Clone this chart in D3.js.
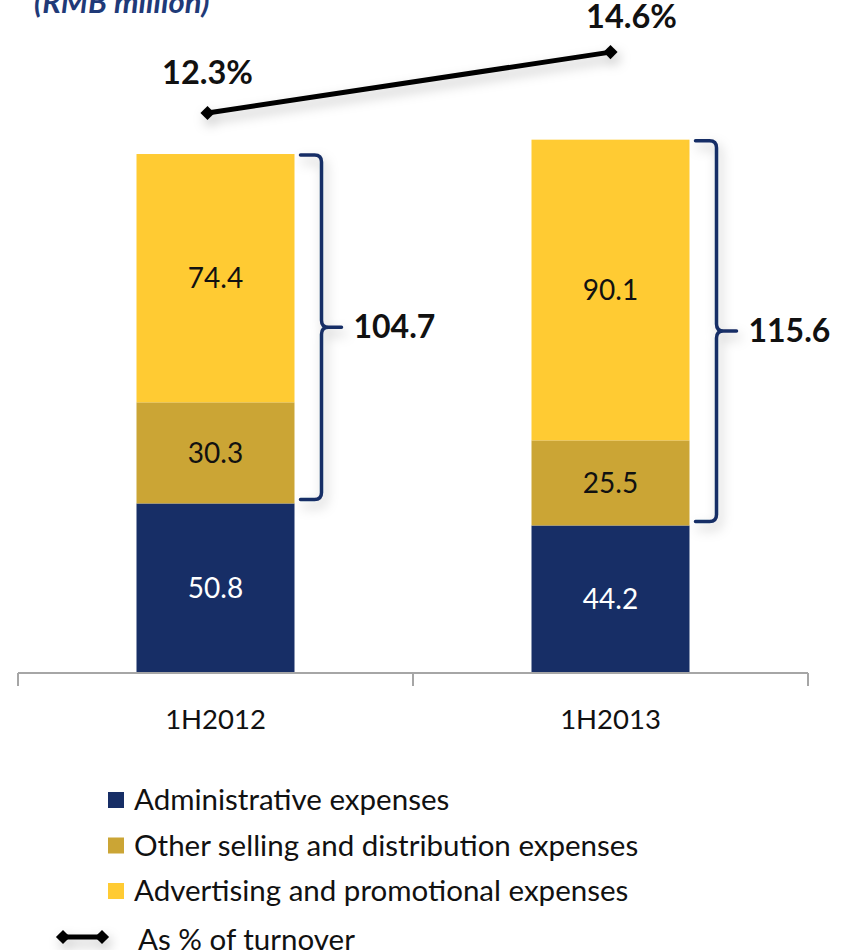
<!DOCTYPE html>
<html>
<head>
<meta charset="utf-8">
<script src="https://cdn.jsdelivr.net/npm/d3@7"></script>
<style>
  html, body { margin: 0; padding: 0; background: #fff; }
  svg { display: block; font-family: Lato, "Open Sans", sans-serif; }
</style>
</head>
<body>
<div id="chart"></div>
<script>
// data
const periods = ["1H2012", "1H2013"];
const seriesNames = [
  "Administrative expenses",
  "Other selling and distribution expenses",
  "Advertising and promotional expenses"
];
const adminValues = [50.8, 44.2];
const otherSellingValues = [30.3, 25.5];
const advertisingValues = [74.4, 90.1];
const bracketTotals = ["104.7", "115.6"];
const pctOfTurnover = [12.3, 14.6];
const pctLabels = ["12.3%", "14.6%"];
const lineLegend = "As % of turnover";
const unitLabel = "(RMB million)";

const colors = ["#172E66", "#CBA535", "#FFCB33"];
const navy = "#172E66";

const width = 855, height = 950;
const base = 673;

const svg = d3.select("#chart").append("svg")
  .attr("width", width).attr("height", height);

const defs = svg.append("defs");
defs.append("filter").attr("id", "shadow")
  .attr("x", "-20%").attr("y", "-50%").attr("width", "140%").attr("height", "200%")
  .append("feDropShadow")
  .attr("dx", 3).attr("dy", 6).attr("stdDeviation", 6)
  .attr("flood-color", "#000").attr("flood-opacity", 0.25);

const x = d3.scaleBand()
  .domain(periods)
  .range([18, 808])
  .paddingInner(0.6)
  .paddingOuter(0.3);

const y = d3.scaleLinear().domain([0, 160]).range([base, 139]);
const yPct = d3.scaleLinear().domain([8, 16]).range([227, 15]);

// stack
const rows = periods.map((p, i) => ({
  period: p,
  s0: adminValues[i],
  s1: otherSellingValues[i],
  s2: advertisingValues[i]
}));
const stack = d3.stack().keys(["s0", "s1", "s2"])(rows);

svg.append("g").selectAll("g")
  .data(stack)
  .join("g")
  .attr("fill", (d, i) => colors[i])
  .each(function (layer, li) {
    const g = d3.select(this);
    g.selectAll("rect")
      .data(layer)
      .join("rect")
      .attr("x", d => x(d.data.period))
      .attr("y", d => y(d[1]))
      .attr("width", x.bandwidth())
      .attr("height", d => y(d[0]) - y(d[1]));
    g.selectAll("text")
      .data(layer)
      .join("text")
      .attr("x", d => x(d.data.period) + x.bandwidth() / 2)
      .attr("y", d => (y(d[0]) + y(d[1])) / 2)
      .attr("dy", "0.35em")
      .attr("text-anchor", "middle")
      .attr("font-size", 28)
      .attr("fill", li === 0 ? "#fff" : "#111")
      .text(d => (d[1] - d[0]).toFixed(1));
  });

// axis
const axis = svg.append("g").attr("stroke", "#A6A6A6").attr("stroke-width", 2);
axis.append("line")
  .attr("x1", x.range()[0]).attr("x2", x.range()[1])
  .attr("y1", base).attr("y2", base);
const bounds = [x.range()[0], x.range()[0] + x.step(), x.range()[1]];
axis.selectAll("line.tick")
  .data(bounds)
  .join("line")
  .attr("class", "tick")
  .attr("x1", d => d).attr("x2", d => d)
  .attr("y1", base).attr("y2", base + 13);

svg.append("g")
  .attr("transform", `translate(0,${base})`)
  .call(d3.axisBottom(x).tickSize(0).tickPadding(0))
  .call(g => g.select(".domain").remove())
  .selectAll("text")
  .attr("y", 46)
  .attr("dy", "0.35em")
  .attr("font-size", 27.5)
  .attr("font-family", "Lato, sans-serif")
  .attr("fill", "#111");

// braces on the top two segments
const braceG = svg.append("g").attr("filter", "url(#shadow)");
rows.forEach((r, i) => {
  const bx = x(r.period) + x.bandwidth();
  const top = y(r.s0 + r.s1 + r.s2) + 1;
  const bot = y(r.s0) - 4;
  const mid = (top + bot) / 2;
  const x0 = bx + 6, xv = bx + 27, xt = bx + 47, rr = 7;
  const p = d3.path();
  p.moveTo(x0, top);
  p.lineTo(xv - rr, top);
  p.quadraticCurveTo(xv, top, xv, top + rr);
  p.lineTo(xv, mid - rr);
  p.quadraticCurveTo(xv, mid, xv + rr, mid);
  p.lineTo(xt, mid);
  p.moveTo(xv + rr, mid);
  p.quadraticCurveTo(xv, mid, xv, mid + rr);
  p.lineTo(xv, bot - rr);
  p.quadraticCurveTo(xv, bot, xv - rr, bot);
  p.lineTo(x0, bot);
  braceG.append("path")
    .attr("d", p.toString())
    .attr("fill", "none")
    .attr("stroke", navy)
    .attr("stroke-width", 3.5)
    .attr("stroke-linecap", "round");
  svg.append("text")
    .attr("x", bx + 59)
    .attr("y", mid)
    .attr("dy", "0.35em")
    .attr("font-size", 32)
    .attr("font-weight", "bold")
    .attr("fill", "#111")
    .text(bracketTotals[i]);
});

// percentage line
const pts = periods.map((p, i) => [x(p) + x.bandwidth() / 2 - (i === 0 ? 8 : 0), yPct(pctOfTurnover[i])]);
const lineG = svg.append("g").attr("filter", "url(#shadow)");
lineG.append("path")
  .attr("d", d3.line()(pts))
  .attr("fill", "none")
  .attr("stroke", "#000")
  .attr("stroke-width", 5);
lineG.selectAll("path.mk")
  .data(pts)
  .join("path")
  .attr("class", "mk")
  .attr("transform", d => `translate(${d[0]},${d[1]}) rotate(45)`)
  .attr("d", d3.symbol(d3.symbolSquare, 100)())
  .attr("fill", "#000");

const labelDx = [0, 21], labelDy = [-29, -24];
svg.selectAll("text.pct")
  .data(pts)
  .join("text")
  .attr("class", "pct")
  .attr("x", (d, i) => d[0] + labelDx[i])
  .attr("y", (d, i) => d[1] + labelDy[i])
  .attr("text-anchor", "middle")
  .attr("font-size", 32.5)
  .attr("font-weight", "bold")
  .attr("fill", "#111")
  .text((d, i) => pctLabels[i]);

// unit label (cropped at top)
svg.append("text")
  .attr("x", 34).attr("y", 13)
  .attr("font-size", 31)
  .attr("font-weight", "bold")
  .attr("font-style", "italic")
  .attr("fill", "#1F3A78")
  .text(unitLabel);

// legend
const legend = svg.append("g");
seriesNames.forEach((name, i) => {
  const cy = 800 + i * 45.5;
  legend.append("rect")
    .attr("x", 108).attr("y", cy - 8)
    .attr("width", 16).attr("height", 16)
    .attr("fill", colors[i]);
  legend.append("text")
    .attr("x", 134).attr("y", cy)
    .attr("dy", "0.35em")
    .attr("font-size", 29.5)
    .attr("fill", "#111")
    .text(name);
});
const ly = 937;
const lg = legend.append("g").attr("filter", "url(#shadow)");
lg.append("line")
  .attr("x1", 63).attr("x2", 102)
  .attr("y1", ly).attr("y2", ly)
  .attr("stroke", "#000").attr("stroke-width", 5);
lg.selectAll("path")
  .data([63, 102])
  .join("path")
  .attr("transform", d => `translate(${d},${ly}) rotate(45)`)
  .attr("d", d3.symbol(d3.symbolSquare, 100)())
  .attr("fill", "#000");
legend.append("text")
  .attr("x", 138).attr("y", ly + 3)
  .attr("dy", "0.35em")
  .attr("font-size", 29.5)
  .attr("fill", "#111")
  .text(lineLegend);
</script>
</body>
</html>
